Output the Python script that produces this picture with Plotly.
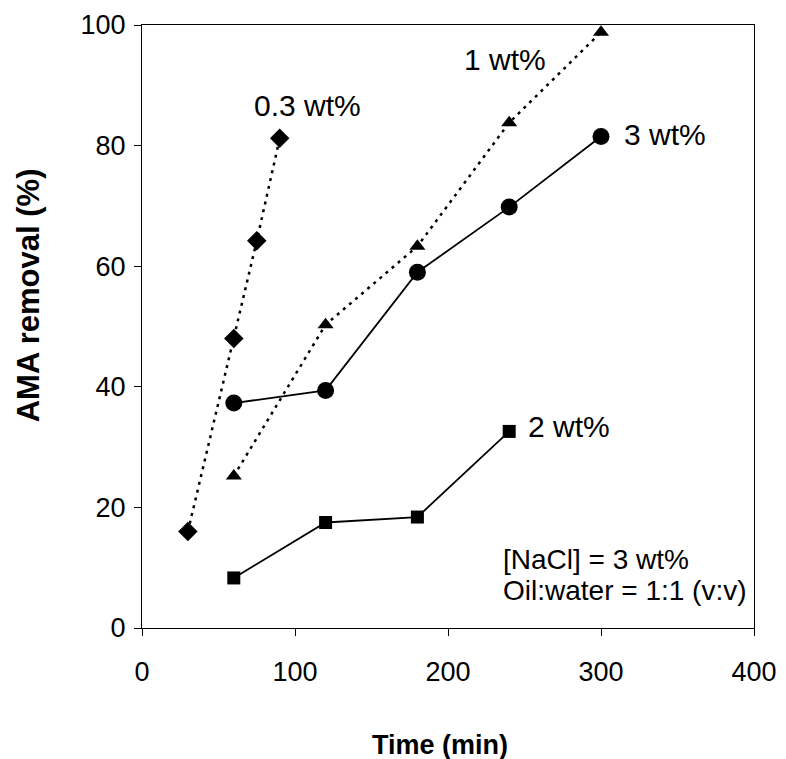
import plotly.graph_objects as go

# Data
t_03 = [30, 60, 75, 90]
r_03 = [16.0, 48.0, 64.2, 81.2]

t_1 = [60, 120, 180, 240, 300]
r_1 = [25.2, 50.3, 63.3, 83.8, 98.8]

t_3 = [60, 120, 180, 240, 300]
r_3 = [37.3, 39.4, 59.0, 69.8, 81.5]

t_2 = [60, 120, 180, 240]
r_2 = [8.3, 17.5, 18.4, 32.6]

x_ticks = [0, 100, 200, 300, 400]
y_ticks = [0, 20, 40, 60, 80, 100]

FONT = "Liberation Sans, Arial, sans-serif"

fig = go.Figure()
fig.add_trace(go.Scatter(x=t_03, y=r_03, mode="lines+markers", name="0.3 wt%",
                         line=dict(color="black", width=2.5, dash="3px,5px"),
                         marker=dict(symbol="diamond", size=15, color="black")))
fig.add_trace(go.Scatter(x=t_1, y=r_1, mode="lines+markers", name="1 wt%",
                         line=dict(color="black", width=2.5, dash="3px,5px"),
                         marker=dict(symbol="triangle-up", size=14, color="black")))
fig.add_trace(go.Scatter(x=t_3, y=r_3, mode="lines+markers", name="3 wt%",
                         line=dict(color="black", width=1.8),
                         marker=dict(symbol="circle", size=17, color="black")))
fig.add_trace(go.Scatter(x=t_2, y=r_2, mode="lines+markers", name="2 wt%",
                         line=dict(color="black", width=1.8),
                         marker=dict(symbol="square", size=13, color="black")))

labels = [
    ("0.3 wt%", 108, 86.7, "center"),
    ("1 wt%", 237, 94.2, "center"),
    ("3 wt%", 313.5, 81.8, "left"),
    ("2 wt%", 250.8, 33.4, "left"),
]
for txt, x, y, anc in labels:
    fig.add_annotation(x=x, y=y, text=txt, showarrow=False, xanchor=anc, yanchor="middle",
                       font=dict(family=FONT, size=30, color="black"))

for txt, y in [("[NaCl] = 3 wt%", 11.3), ("Oil:water = 1:1 (v:v)", 6.3)]:
    fig.add_annotation(x=234.6, y=y, text=txt, showarrow=False, xanchor="left", yanchor="middle",
                       font=dict(family=FONT, size=28, color="black"))

# axis titles
fig.add_annotation(xref="paper", yref="paper", x=-0.186, y=0.552, text="<b>AMA removal (%)</b>",
                   textangle=-90, showarrow=False, xanchor="center", yanchor="middle",
                   font=dict(family=FONT, size=31, color="black"))
fig.add_annotation(xref="paper", yref="paper", x=0.487, y=-0.194, text="<b>Time (min)</b>",
                   showarrow=False, xanchor="center", yanchor="middle",
                   font=dict(family=FONT, size=27, color="black"))

axis_common = dict(showline=True, linecolor="black", linewidth=1.2, mirror=True,
                   ticks="outside", ticklen=7, tickcolor="black", showgrid=False,
                   zeroline=False, automargin=False,
                   tickfont=dict(family=FONT, size=27, color="black"))

fig.update_xaxes(range=[0, 400], tickvals=x_ticks, ticklabelstandoff=12, **axis_common)
fig.update_yaxes(range=[0, 100], tickvals=y_ticks, ticklabelstandoff=3, **axis_common)

fig.update_layout(width=786, height=759, showlegend=False,
                  plot_bgcolor="white", paper_bgcolor="white",
                  margin=dict(l=134, r=40, t=17, b=139, autoexpand=False))

fig.write_html("out.html")
